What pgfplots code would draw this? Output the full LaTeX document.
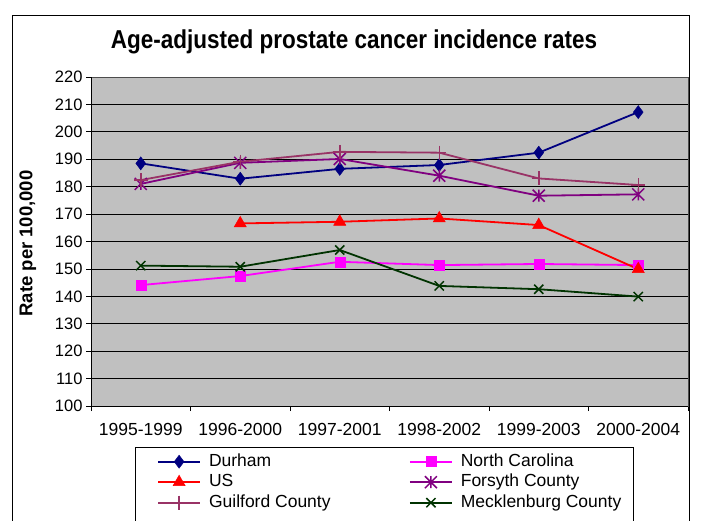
\documentclass[border=0pt]{standalone}
\usepackage{pgfplots}
\pgfplotsset{compat=1.18}
\usepackage{fontspec}
\setmainfont{Liberation Sans}

\definecolor{durham}{RGB}{0,0,128}
\definecolor{ncar}{RGB}{255,0,255}
\definecolor{usred}{RGB}{255,0,0}
\definecolor{forsyth}{RGB}{128,0,128}
\definecolor{guilford}{RGB}{153,51,102}
\definecolor{meck}{RGB}{0,51,0}
\definecolor{plotgray}{RGB}{192,192,192}

% excel-like star: an x plus a vertical bar
\pgfdeclareplotmark{xlstar}{%
  \pgfpathmoveto{\pgfqpoint{0pt}{\pgfplotmarksize}}%
  \pgfpathlineto{\pgfqpoint{0pt}{-\pgfplotmarksize}}%
  \pgfpathmoveto{\pgfqpoint{-\pgfplotmarksize}{-\pgfplotmarksize}}%
  \pgfpathlineto{\pgfqpoint{\pgfplotmarksize}{\pgfplotmarksize}}%
  \pgfpathmoveto{\pgfqpoint{-\pgfplotmarksize}{\pgfplotmarksize}}%
  \pgfpathlineto{\pgfqpoint{\pgfplotmarksize}{-\pgfplotmarksize}}%
  \pgfusepathqstroke}

\begin{document}
\begin{tikzpicture}[x=1pt,y=1pt]
\path[use as bounding box] (0,0) rectangle (701,520);
\draw[black, line width=1pt] (12,-10) -- (12,504) -- (689,504) -- (689,-10);
\draw[black, line width=0.8pt] (135,-10) -- (135,73) -- (633,73) -- (633,-10);
\node[font=\fontsize{22.5}{27}\selectfont\bfseries] at (354,478) {\scalebox{1}[1.15]{Age-adjusted prostate cancer incidence rates}};

\begin{axis}[
  at={(91pt,114pt)}, anchor=south west,
  scale only axis, width=597pt, height=329pt,
  xmin=-0.5, xmax=5.5, ymin=100, ymax=220,
  axis background/.style={fill=plotgray},
  axis line style={draw=gray!60!black, line width=0.8pt},
  tick pos=left, tick align=outside, major tick length=5pt,
  tick style={black, line width=0.8pt},
  xtick={-0.5,0.5,1.5,2.5,3.5,4.5,5.5}, xticklabels={},
  extra x ticks={0,1,2,3,4,5},
  extra x tick labels={1995-1999,1996-2000,1997-2001,1998-2002,1999-2003,2000-2004},
  extra x tick style={major tick length=0pt, tick label style={yshift=-14pt}},
  x tick label style={font=\fontsize{17.5}{21}\selectfont},
  ytick={100,110,...,220},
  y tick label style={font=\fontsize{16.5}{19}\selectfont},
  /pgf/number format/assume math mode=true,
  ymajorgrids, grid style={black, line width=0.8pt},
  ylabel={Rate per 100,000},
  ylabel style={at={(axis description cs:-0.106,0.494)}, anchor=center, font=\fontsize{18.5}{22}\selectfont\bfseries},
  every axis plot/.append style={line width=1.8pt},
  legend columns=2,
  legend cell align=left,
  legend style={at={(axis description cs:0.1106,-0.1444)}, anchor=north west,
    draw=none, fill=none, inner sep=0pt, column sep=0pt, row sep=4.5pt,
    font=\fontsize{17.5}{21}\selectfont,
    nodes={inner sep=0pt, text height=12.5pt, text depth=3.5pt},
    /tikz/every odd column/.append style={column sep=8pt}},
  legend image code/.code={\draw[mark repeat=2,mark phase=2,#1] plot coordinates {(0pt,0pt) (21pt,0pt) (42pt,0pt)};},
  after end axis/.code={\draw[black, line width=0.8pt] (rel axis cs:0,1) -- (rel axis cs:0,0) -- (rel axis cs:1,0);},
]
\addplot[color=durham, mark=diamond*, mark size=6.5pt, mark options={line width=0.5pt}]
  coordinates {(0,188.5) (1,182.9) (2,186.5) (3,187.9) (4,192.4) (5,207.2)};
\addlegendentry{\makebox[200pt][l]{Durham}}
\addplot[color=ncar, mark=square*, mark size=5pt, mark options={line width=0.5pt}]
  coordinates {(0,144.1) (1,147.4) (2,152.6) (3,151.4) (4,151.8) (5,151.4)};
\addlegendentry{North Carolina}
\addplot[color=usred, mark=triangle*, mark size=7pt, mark options={line width=0.5pt}]
  coordinates {(1,166.6) (2,167.2) (3,168.4) (4,166.0) (5,149.9)};
\addlegendentry{\makebox[200pt][l]{US}}
\addplot[color=forsyth, mark=xlstar, mark size=6pt, mark options={line width=1.5pt}]
  coordinates {(0,181.0) (1,188.7) (2,190.1) (3,184.0) (4,176.7) (5,177.2)};
\addlegendentry{Forsyth County}
\addplot[color=guilford, mark=+, mark size=7pt, mark options={line width=1.5pt}]
  coordinates {(0,182.4) (1,189.1) (2,192.7) (3,192.4) (4,183.0) (5,180.6)};
\addlegendentry{\makebox[200pt][l]{Guilford County}}
\addplot[color=meck, mark=x, mark size=6.5pt, mark options={line width=1.5pt}]
  coordinates {(0,151.2) (1,150.8) (2,156.9) (3,143.8) (4,142.6) (5,139.9)};
\addlegendentry{Mecklenburg County}
\end{axis}
\end{tikzpicture}
\end{document}
